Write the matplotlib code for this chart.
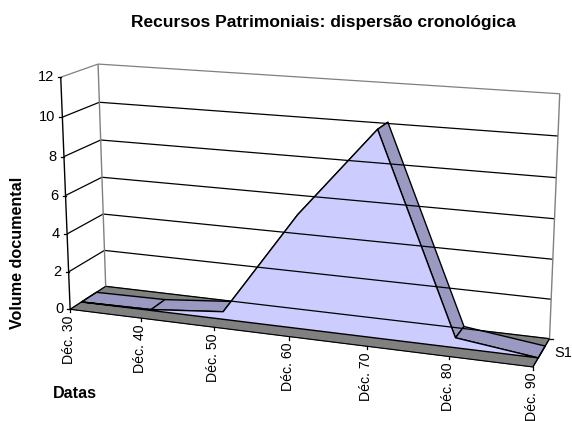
import numpy as np
import matplotlib
matplotlib.use("Agg")
import matplotlib.pyplot as plt
from matplotlib.patches import Polygon

plt.rcParams['font.family'] = ['Liberation Sans', 'DejaVu Sans']

categories = ["Déc. 30", "Déc. 40", "Déc. 50", "Déc. 60", "Déc. 70", "Déc. 80", "Déc. 90"]
values = [0.0, 0.05, 0.4, 5.8, 10.3, 0.5, 0.0]
y_ticks = [0, 2, 4, 6, 8, 10, 12]
series_name = "S1"

# depth of the series ribbon inside the box
D_FRONT, D_BACK = 0.31, 0.73

# (cat, depth, value) -> pixel, picked off the reference to fit the 3D view
CALIB = [
    (0, 0, 0, 71, 309), (0, 0, 12, 61, 77), (0, 1, 0, 106, 286), (0, 1, 12, 98, 64),
    (6, 1, 0, 550, 338), (6, 1, 12, 560, 94), (6, 0, 0, 533, 366),
    (1, 0, 0, 141, 319), (2, 0, 0, 213, 327), (3, 0, 0, 289, 337),
    (4, 0, 0, 367, 347), (5, 0, 0, 449, 357),
    (0, 1, 2, 104, 251), (6, 1, 6, 554, 219), (0, 0, 2, 68, 271),
]


def fit_projection(pts):
    A = []
    for x, d, z, u, v in pts:
        A.append([x, d, z, 1, 0, 0, 0, 0, -u*x, -u*d, -u*z, -u])
        A.append([0, 0, 0, 0, x, d, z, 1, -v*x, -v*d, -v*z, -v])
    _, _, vt = np.linalg.svd(np.array(A, float))
    return vt[-1].reshape(3, 4)


P = fit_projection(CALIB)


def proj(x, d, z):
    h = P @ np.array([x, d, z, 1.0])
    return h[0] / h[2], h[1] / h[2]


fig = plt.figure(figsize=(5.72, 4.21), dpi=100)
ax = fig.add_axes([0, 0, 1, 1])
ax.set_xlim(0, 572)
ax.set_ylim(421, 0)
ax.axis("off")

n = len(categories) - 1


def seg(a, b, **kw):
    pa, pb = proj(*a), proj(*b)
    ax.plot([pa[0], pb[0]], [pa[1], pb[1]], solid_capstyle="butt", **kw)


# walls
for v in y_ticks:
    c = "#808080" if v == y_ticks[-1] else "black"
    seg((0, 0, v), (0, 1, v), color=c, lw=0.9)
    seg((0, 1, v), (n, 1, v), color=c, lw=0.9)
seg((0, 1, 0), (0, 1, 12), color="#808080", lw=1.0)
seg((n, 1, 0), (n, 1, 12), color="#808080", lw=1.0)

# floor
floor = [proj(0, 0, 0), proj(n, 0, 0), proj(n, 1, 0), proj(0, 1, 0)]
ax.add_patch(Polygon(floor, closed=True, fc="#808080", ec="#505050", lw=0.6))

# top ribbon, then the front face over it
for i in range(n):
    quad = [proj(i, D_FRONT, values[i]), proj(i+1, D_FRONT, values[i+1]),
            proj(i+1, D_BACK, values[i+1]), proj(i, D_BACK, values[i])]
    ax.add_patch(Polygon(quad, closed=True, fc="#9999C2", ec="black", lw=1.0, joinstyle="round"))
face = [proj(i, D_FRONT, values[i]) for i in range(n+1)]
face += [proj(n, D_FRONT, 0), proj(0, D_FRONT, 0)]
ax.add_patch(Polygon(face, closed=True, fc="#CCCCFF", ec="black", lw=1.0, joinstyle="round"))

# axes and ticks
seg((0, 0, 0), (0, 0, 12), color="black", lw=1.0)
seg((0, 0, 0), (n, 0, 0), color="black", lw=0.8)
seg((n, 0, 0), (n, 1, 0), color="black", lw=1.0)
for v in y_ticks:
    xp, yp = proj(0, 0, v)
    ax.plot([xp-3, xp], [yp, yp], color="black", lw=0.9)
    ax.text(xp-7, yp, str(v), ha="right", va="center", fontsize=10.5)
for i, lab in enumerate(categories):
    xp, yp = proj(i, 0, 0)
    ax.plot([xp, xp], [yp, yp+3], color="black", lw=0.9)
    ax.text(xp-1, yp+6, lab, rotation=90, ha="center", va="top", fontsize=10.2)
xp, yp = proj(n, 1, 0)
ax.plot([xp, xp+3], [yp, yp], color="black", lw=0.9)
xp, yp = proj(n, 0.5, 0)
ax.text(xp+13, yp+1, series_name, ha="left", va="center", fontsize=10.5)

ax.text(323, 23, "Recursos Patrimoniais: dispersão cronológica", ha="center", va="center",
        fontsize=12.5, fontweight="bold")
ax.text(18, 253, "Volume documental", rotation=90, ha="center", va="center",
        fontsize=11.6, fontweight="bold")
ax.text(53, 393, "Datas", ha="left", va="center", fontsize=11.6, fontweight="bold")

fig.savefig("out.png", dpi=100)
